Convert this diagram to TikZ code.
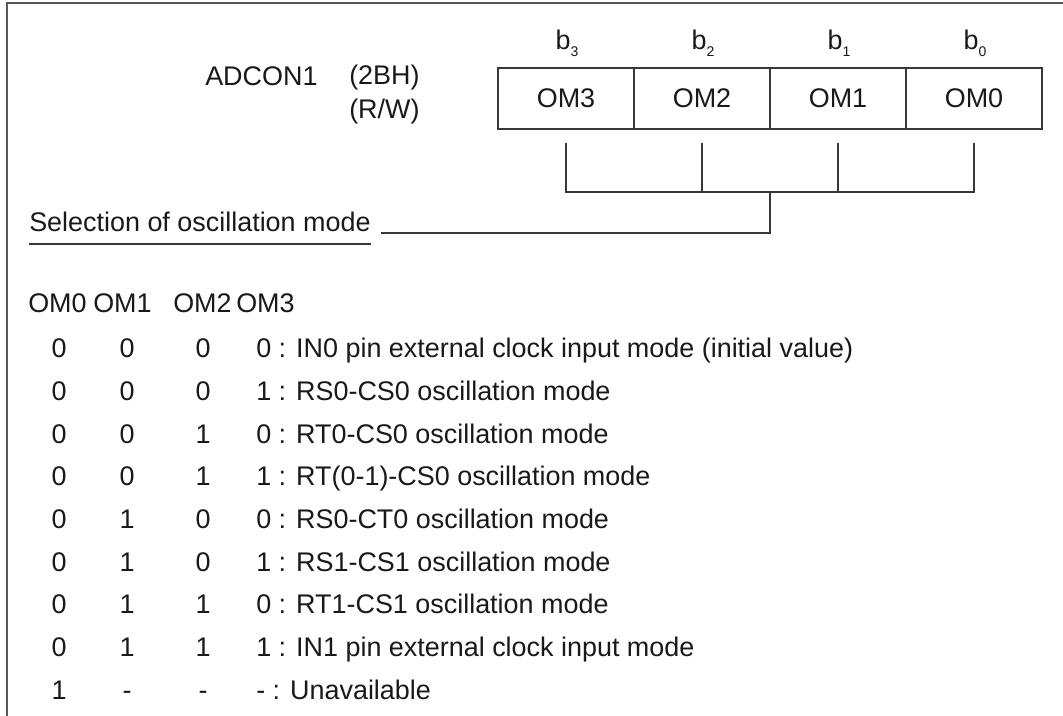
\documentclass[tikz,border=0pt]{standalone}
\usepackage{fontspec}
\setmainfont{Liberation Sans}
\begin{document}
\begin{tikzpicture}[x=0.75pt,y=-0.75pt,
  txt/.style={font=\fontsize{20.2}{24}\selectfont, inner sep=0pt, text=black!90},
  ln/.style={line width=1pt, draw=black!78},
  frame/.style={line width=1.1pt, draw=black!65},
  cell/.style={txt, draw=black!78, line width=1pt, minimum width=102pt, minimum height=45.75pt, inner sep=0pt},
  blab/.style={txt, anchor=base}]
\useasboundingbox (0,0) rectangle (1063,716);
% outer frame (top and left)
\coordinate (ftl) at (7,3);
\coordinate (ftr) at (1063,3);
\coordinate (fbl) at (7,716);
\draw[frame] (ftr) -- (ftl) -- (fbl);
% register name
\node[txt, anchor=base west] (reg) at (205,86) {ADCON1};
\node[txt, anchor=base west] (addr) at (349,85) {(2BH)};
\node[txt, anchor=base west] (rw) at (349,119) {(R/W)};
% register cells
\node[cell] (c3) at (566,98.5) {OM3};
\node[cell] (c2) at (702,98.5) {OM2};
\node[cell] (c1) at (838,98.5) {OM1};
\node[cell] (c0) at (974,98.5) {OM0};
% bit labels
\node[blab] (b3) at (567,50) {b\raisebox{-5pt}{\fontsize{10.5}{12}\selectfont 3}};
\node[blab] (b2) at (703,50) {b\raisebox{-5pt}{\fontsize{10.5}{12}\selectfont 2}};
\node[blab] (b1) at (839,50) {b\raisebox{-5pt}{\fontsize{10.5}{12}\selectfont 1}};
\node[blab] (b0) at (975,50) {b\raisebox{-5pt}{\fontsize{10.5}{12}\selectfont 0}};
% bus connectors
\coordinate (j) at (770,192);
\draw[ln] ([yshift=-9.75pt]c3.south) |- (j);
\draw[ln] ([yshift=-9.75pt]c0.south) |- (j);
\draw[ln] ([yshift=-9.75pt]c2.south) -- (c2.south |- j);
\draw[ln] ([yshift=-9.75pt]c1.south) -- (c1.south |- j);
% selection label
\node[txt, anchor=base west] (sel) at (29,232) {Selection of oscillation mode};
\coordinate (e) at (381,233);
\draw[ln] (j) |- (e);
\draw[ln] ([yshift=-9pt]sel.base west) -- ([yshift=-9pt]sel.base east);
% table header
\node[txt, anchor=base west] (h0) at (28,313) {OM0};
\node[txt, anchor=base west] (h1) at (93,313) {OM1};
\node[txt, anchor=base west] (h2) at (173,313) {OM2};
\node[txt, anchor=base west] (h3) at (236,313) {OM3};
% table rows
\foreach \a/\b/\c/\d/\t [count=\i from 0] in {
  0/0/0/0/{IN0 pin external clock input mode (initial value)},
  0/0/0/1/{RS0-CS0 oscillation mode},
  0/0/1/0/{RT0-CS0 oscillation mode},
  0/0/1/1/{RT(0-1)-CS0 oscillation mode},
  0/1/0/0/{RS0-CT0 oscillation mode},
  0/1/0/1/{RS1-CS1 oscillation mode},
  0/1/1/0/{RT1-CS1 oscillation mode},
  0/1/1/1/{IN1 pin external clock input mode},
  1/-/-/-/{Unavailable}}{
  \pgfmathsetmacro\yy{358+42.65*\i}
  \node[txt, anchor=base] (r\i a) at (59,\yy) {\a};
  \node[txt, anchor=base] (r\i b) at (127,\yy) {\b};
  \node[txt, anchor=base] (r\i c) at (203,\yy) {\c};
  \node[txt, anchor=base west] (r\i d) at (256,\yy) {\d\ : \t};
}
\end{tikzpicture}
\end{document}
